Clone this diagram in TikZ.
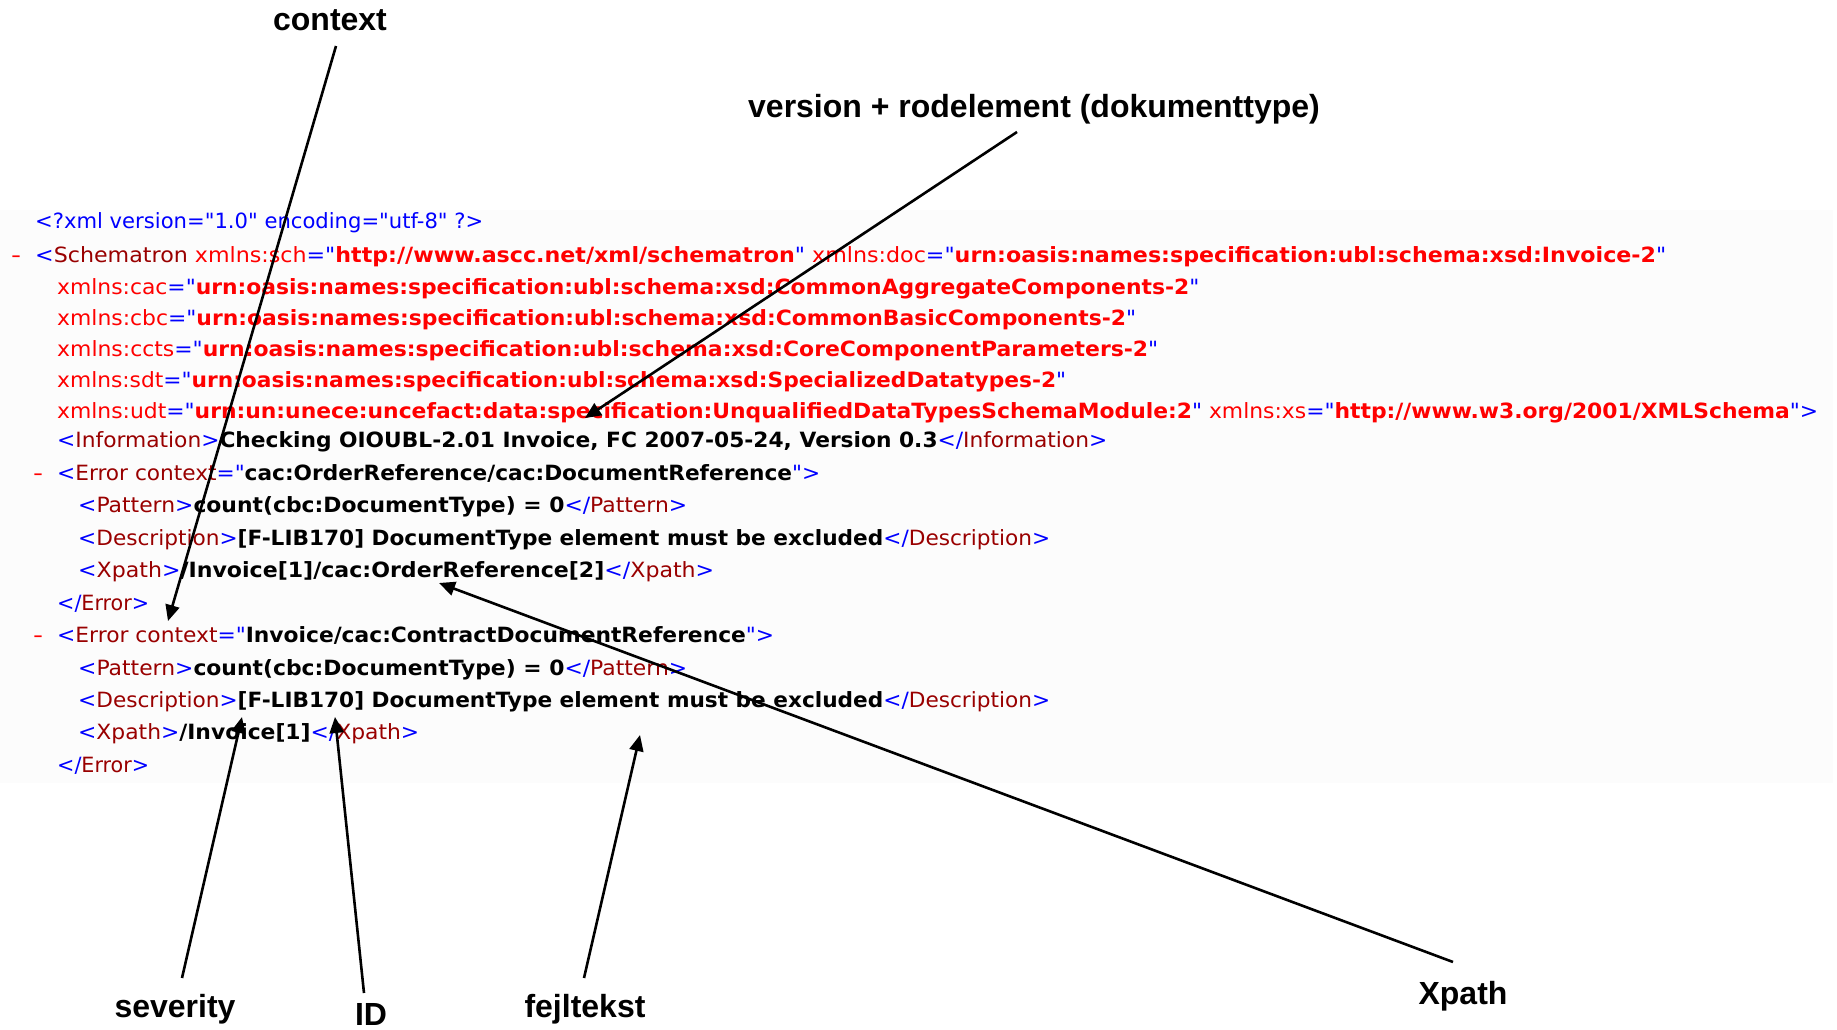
\documentclass[tikz,border=0pt]{standalone}
\usepackage{fontspec}
\usepackage{graphicx}
\newfontfamily\xmlfont{DejaVu Sans}
\newfontfamily\lblfont{Liberation Sans}
\usetikzlibrary{arrows.meta}
\definecolor{xblue}{RGB}{0,0,255}
\definecolor{xtag}{RGB}{153,0,0}
\definecolor{xred}{RGB}{255,0,0}
\definecolor{panelbg}{RGB}{252,252,252}
\newcommand\xmk[1]{\textcolor{xblue}{#1}}
\newcommand\xtg[1]{\textcolor{xtag}{#1}}
\newcommand\xns[1]{\textcolor{xred}{#1}}
\newcommand\xnv[1]{\textcolor{xred}{\bfseries #1}}
\newcommand\xtx[1]{{\bfseries #1}}
\newcommand\xfit[2]{\resizebox{#1pt}{\height}{#2}}
\tikzset{
  xline/.style={anchor=base west, inner sep=0pt, font=\xmlfont\fontsize{21}{25}\selectfont},
  xdash/.style={anchor=base west, inner sep=0pt, text=xred, font=\xmlfont\fontsize{21}{25}\selectfont},
  lbl/.style={anchor=base, inner sep=0pt, font=\lblfont\bfseries\fontsize{32}{38}\selectfont},
  arr/.style={line width=2.6pt, -{Triangle[length=16pt,width=14pt]}},
}
\begin{document}
\begin{tikzpicture}[x=1pt,y=-1pt]
\useasboundingbox (0,0) rectangle (1837,1029);
\fill[panelbg] (0,210) rectangle (1833,783);
% XML lines
\node[xline] (l1) at (35,228) {\xfit{448}{\xmk{<?xml version="1.0" encoding="utf-8" ?>}}};
\node[xdash] (d2) at (11,262) {\xfit{10}{-}};
\node[xline] (l2) at (35,262) {\xfit{1631}{\xmk{<}\xtg{Schematron} \xns{xmlns:sch}\xmk{="}\xnv{http://www.ascc.net/xml/schematron}\xmk{"} \xns{xmlns:doc}\xmk{="}\xnv{urn:oasis:names:specification:ubl:schema:xsd:Invoice-2}\xmk{"}}};
\node[xline] (l3) at (57,294) {\xfit{1142}{\xns{xmlns:cac}\xmk{="}\xnv{urn:oasis:names:specification:ubl:schema:xsd:CommonAggregateComponents-2}\xmk{"}}};
\node[xline] (l4) at (57,325) {\xfit{1079}{\xns{xmlns:cbc}\xmk{="}\xnv{urn:oasis:names:specification:ubl:schema:xsd:CommonBasicComponents-2}\xmk{"}}};
\node[xline] (l5) at (57,356) {\xfit{1101}{\xns{xmlns:ccts}\xmk{="}\xnv{urn:oasis:names:specification:ubl:schema:xsd:CoreComponentParameters-2}\xmk{"}}};
\node[xline] (l6) at (57,387) {\xfit{1009}{\xns{xmlns:sdt}\xmk{="}\xnv{urn:oasis:names:specification:ubl:schema:xsd:SpecializedDatatypes-2}\xmk{"}}};
\node[xline] (l7) at (57,418) {\xfit{1761}{\xns{xmlns:udt}\xmk{="}\xnv{urn:un:unece:uncefact:data:specification:UnqualifiedDataTypesSchemaModule:2}\xmk{"} \xns{xmlns:xs}\xmk{="}\xnv{http://www.w3.org/2001/XMLSchema}\xmk{">}}};
\node[xline] (l8) at (57,447) {\xfit{1050}{\xmk{<}\xtg{Information}\xmk{>}\xtx{Checking OIOUBL-2.01 Invoice, FC 2007-05-24, Version 0.3}\xmk{</}\xtg{Information}\xmk{>}}};
\node[xdash] (d9) at (33,480) {\xfit{10}{-}};
\node[xline] (l9) at (57,480) {\xfit{763}{\xmk{<}\xtg{Error context}\xmk{="}\xtx{cac:OrderReference/cac:DocumentReference}\xmk{">}}};
\node[xline] (l10) at (78,512) {\xfit{609}{\xmk{<}\xtg{Pattern}\xmk{>}\xtx{count(cbc:DocumentType) = 0}\xmk{</}\xtg{Pattern}\xmk{>}}};
\node[xline] (l11) at (78,545) {\xfit{972}{\xmk{<}\xtg{Description}\xmk{>}\xtx{[F-LIB170] DocumentType element must be excluded}\xmk{</}\xtg{Description}\xmk{>}}};
\node[xline] (l12) at (78,577) {\xfit{636}{\xmk{<}\xtg{Xpath}\xmk{>}\xtx{/Invoice[1]/cac:OrderReference[2]}\xmk{</}\xtg{Xpath}\xmk{>}}};
\node[xline] (l13) at (57,610) {\xfit{92}{\xmk{</}\xtg{Error}\xmk{>}}};
\node[xdash] (d14) at (33,642) {\xfit{10}{-}};
\node[xline] (l14) at (57,642) {\xfit{717}{\xmk{<}\xtg{Error context}\xmk{="}\xtx{Invoice/cac:ContractDocumentReference}\xmk{">}}};
\node[xline] (l15) at (78,675) {\xfit{609}{\xmk{<}\xtg{Pattern}\xmk{>}\xtx{count(cbc:DocumentType) = 0}\xmk{</}\xtg{Pattern}\xmk{>}}};
\node[xline] (l16) at (78,707) {\xfit{972}{\xmk{<}\xtg{Description}\xmk{>}\xtx{[F-LIB170] DocumentType element must be excluded}\xmk{</}\xtg{Description}\xmk{>}}};
\node[xline] (l17) at (78,739) {\xfit{341}{\xmk{<}\xtg{Xpath}\xmk{>}\xtx{/Invoice[1]}\xmk{</}\xtg{Xpath}\xmk{>}}};
\node[xline] (l18) at (57,772) {\xfit{92}{\xmk{</}\xtg{Error}\xmk{>}}};
% labels
\node[lbl] (context) at (330,30) {context};
\node[lbl] (version) at (1034,117) {version + rodelement (dokumenttype)};
\node[lbl] (severity) at (175,1017) {severity};
\node[lbl] (id) at (371,1025) {ID};
\node[lbl] (fejl) at (585,1017) {fejltekst};
\node[lbl] (xpath) at (1463,1004) {Xpath};
% connector ends
\coordinate (ctxs) at (336,46);   \coordinate (ctxt) at (168,621);
\coordinate (vers) at (1017,132); \coordinate (vert) at (585,418);
\coordinate (sevs) at (182,978);  \coordinate (sevt) at (242,717);
\coordinate (ids)  at (364,993);  \coordinate (idt)  at (335,717);
\coordinate (fejs) at (584,978);  \coordinate (fejt) at (640,735);
\coordinate (xps)  at (1453,962); \coordinate (xpt)  at (439,583);
\draw[arr] (ctxs) -- (ctxt);
\draw[arr] (vers) -- (vert);
\draw[arr] (sevs) -- (sevt);
\draw[arr] (ids) -- (idt);
\draw[arr] (fejs) -- (fejt);
\draw[arr] (xps) -- (xpt);
\end{tikzpicture}
\end{document}
